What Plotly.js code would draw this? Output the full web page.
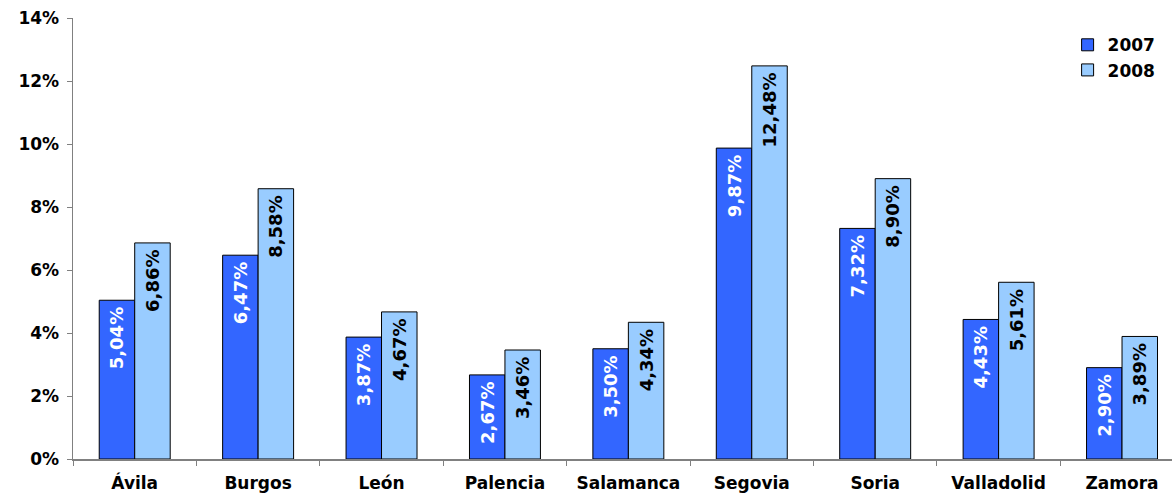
<!DOCTYPE html>
<html><head><meta charset="utf-8">
<script src="https://cdn.plot.ly/plotly-3.0.1.min.js"></script>
<style>body{margin:0;background:#fff}#c{width:1172px;height:494px}</style>
</head><body><div id="c"></div>
<script>
const categories = ['Ávila','Burgos','León','Palencia','Salamanca','Segovia','Soria','Valladolid','Zamora'];
const values2007 = [5.04, 6.47, 3.87, 2.67, 3.50, 9.87, 7.32, 4.43, 2.90];
const values2008 = [6.86, 8.58, 4.67, 3.46, 4.34, 12.48, 8.90, 5.61, 3.89];
const yTicks = [0, 2, 4, 6, 8, 10, 12, 14];

const F = 'Verdana, "DejaVu Sans", sans-serif';
function tr(name, y, color, tcol){
  return {type:'bar', name:name, x:categories, y:y,
    marker:{color:color, line:{color:'#000', width:1}},
    texttemplate:'%{y:.2f}%\u2009', textposition:'inside', insidetextanchor:'end',
    textangle:-90, constraintext:'none', cliponaxis:false,
    insidetextfont:{family:F, size:18, color:tcol, weight:'bold'}, hoverinfo:'skip'};
}
const data = [tr('2007', values2007, '#3366FF', '#ffffff'), tr('2008', values2008, '#99CCFF', '#000000')];
const bf = {family:F, size:17, color:'#000', weight:'bold'};
const layout = {
  width:1172, height:494, separators:',.',
  margin:{l:73, r:0, t:18, b:35},
  paper_bgcolor:'#fff', plot_bgcolor:'#fff',
  font:bf,
  barmode:'group', bargap:0.425, bargroupgap:0,
  showlegend:true,
  legend:{x:0.905, y:0.979, xanchor:'left', yanchor:'top', font:bf, bgcolor:'rgba(0,0,0,0)', itemwidth:30, tracegroupgap:0},
  xaxis:{type:'category', range:[-0.5, 8.405], showline:true, linecolor:'#808080', linewidth:1.5,
    ticks:'outside', tickson:'boundaries', ticklen:5, tickcolor:'#808080', tickwidth:1,
    tickfont:bf, showgrid:false, zeroline:false, ticklabelstandoff:8},
  yaxis:{range:[0,14], tickvals:yTicks, ticktext:yTicks.map(v=>v+'%'), showline:true, linecolor:'#808080', linewidth:1.5,
    ticks:'outside', ticklen:5, tickcolor:'#808080', tickwidth:1, showgrid:false, zeroline:false,
    tickfont:bf, ticklabelstandoff:4}
};
Plotly.newPlot('c', data, layout, {staticPlot:true});
</script></body></html>
